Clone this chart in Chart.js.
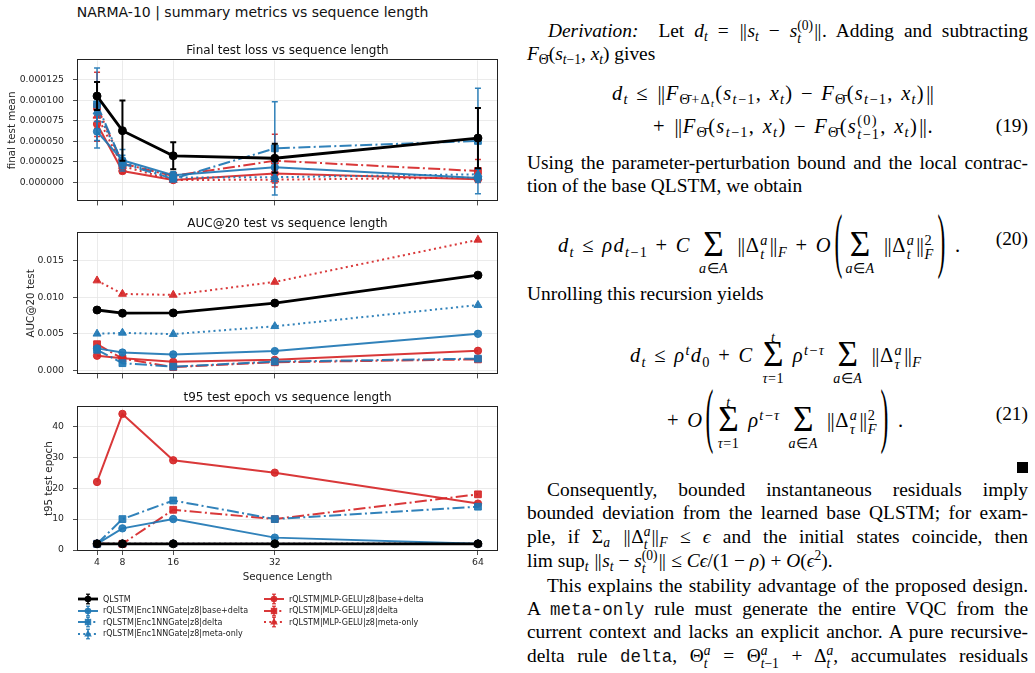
<!DOCTYPE html>
<html>
<head>
<meta charset="utf-8">
<script src="https://cdn.jsdelivr.net/npm/chart.js@4.4.1/dist/chart.umd.min.js"></script>
<style>
html,body{margin:0;padding:0;background:#fff;}
body{width:1035px;height:673px;position:relative;overflow:hidden;}
canvas.c{position:absolute;left:0;}
#sup{position:absolute;left:0;width:505px;top:4px;text-align:center;font-family:"DejaVu Sans";font-size:14px;color:#111;white-space:nowrap;}
.li{position:absolute;height:12px;white-space:nowrap;display:flex;align-items:center;font-family:"DejaVu Sans";font-size:8px;color:#222;}
.li svg{margin-right:5px;flex:none}
.tx{position:absolute;font-family:"Liberation Serif","Times New Roman",serif;font-size:19.4px;line-height:23px;color:#000;white-space:nowrap;}
.j{white-space:normal;text-align:justify;text-align-last:justify;width:501px;left:527px;}
.tx sub,.tx sup{font-size:0.7em;line-height:0;}
.tx sub{vertical-align:-0.3em}
.tx sup{vertical-align:0.5em}
.ss{display:inline-block;font-size:0.7em;line-height:0.95em;vertical-align:-0.42em;text-align:left;text-align-last:left;text-indent:0;}
.ss>span{display:block;text-indent:0;}
.nn{letter-spacing:-0.03em;margin:0 0.06em;}
.eq{font-size:20.5px;letter-spacing:1.3px;word-spacing:1px;}
.sum{display:inline-block;position:relative;font-size:1.72em;line-height:1;vertical-align:-0.1em;letter-spacing:0;text-align:center;text-indent:0;}
.sum .lo,.sum .hi{position:absolute;left:50%;transform:translateX(-50%);font-size:0.4em;line-height:1;white-space:nowrap;letter-spacing:0.5px;}
.sum .lo{top:96%;}
.sum .hi{bottom:80%;}
.bp{display:inline-block;transform:scale(1.15,3.5);transform-origin:50% 58%;margin:0 3px;letter-spacing:0;}
.mono{font-family:"Liberation Mono",monospace;font-size:0.9em;color:#111;}
</style>
</head>
<body>
<div id="sup">NARMA-10 | summary metrics vs sequence length</div>
<canvas id="c1" class="c" width="510" height="175" style="top:40px"></canvas>
<canvas id="c2" class="c" width="510" height="175" style="top:213px"></canvas>
<canvas id="c3" class="c" width="510" height="200" style="top:387px"></canvas>
<div id="legend"></div>

<!-- right-hand text column -->
<div class="tx j" style="top:19px;text-indent:21px"><i>Derivation:</i>&nbsp; Let <i>d</i><sub><i>t</i></sub> = <span class="nn">||</span><i>s</i><sub><i>t</i></sub> − <i>s</i><span class="ss"><span>(0)</span><span><i>t</i></span></span><span class="nn">||</span>. Adding and subtracting</div>
<div class="tx" style="top:42px;left:527px"><i>F</i><sub>Θ̄</sub>(<i>s</i><sub><i>t</i>−1</sub>, <i>x</i><sub><i>t</i></sub>) gives</div>
<div class="tx eq" style="top:82px;left:612px"><i>d</i><sub><i>t</i></sub> ≤ <span class="nn">||</span><i>F</i><sub>Θ̄+Δ<sub><i>t</i></sub></sub>(<i>s</i><sub><i>t</i>−1</sub>, <i>x</i><sub><i>t</i></sub>) − <i>F</i><sub>Θ̄</sub>(<i>s</i><sub><i>t</i>−1</sub>, <i>x</i><sub><i>t</i></sub>)<span class="nn">||</span></div>
<div class="tx eq" style="top:114px;left:653px">+ <span class="nn">||</span><i>F</i><sub>Θ̄</sub>(<i>s</i><sub><i>t</i>−1</sub>, <i>x</i><sub><i>t</i></sub>) − <i>F</i><sub>Θ̄</sub>(<i>s</i><span class="ss"><span>(0)</span><span><i>t</i>−1</span></span>, <i>x</i><sub><i>t</i></sub>)<span class="nn">||</span>.</div>
<div class="tx" style="top:114px;right:7px">(19)</div>
<div class="tx j" style="top:151px">Using the parameter-perturbation bound and the local contrac-</div>
<div class="tx" style="top:174px;left:527px">tion of the base QLSTM, we obtain</div>
<div class="tx eq" style="top:227px;left:558px"><i>d</i><sub><i>t</i></sub> ≤ <i>ρd</i><sub><i>t</i>−1</sub> + <i>C</i> <span class="sum" style="padding:0 5px">Σ<span class="lo"><i>a</i>∈<i>A</i></span></span> <span class="nn">||</span>Δ<span class="ss"><span><i>a</i></span><span><i>t</i></span></span><span class="nn">||</span><sub><i>F</i></sub> + <i>O</i><span class="bp">(</span><span class="sum" style="padding:0 5px">Σ<span class="lo"><i>a</i>∈<i>A</i></span></span> <span class="nn">||</span>Δ<span class="ss"><span><i>a</i></span><span><i>t</i></span></span><span class="nn">||</span><span class="ss"><span>2</span><span><i>F</i></span></span><span class="bp">)</span> .</div>
<div class="tx" style="top:227px;right:7px">(20)</div>
<div class="tx" style="top:282px;left:527px">Unrolling this recursion yields</div>
<div class="tx eq" style="top:337px;left:630px"><i>d</i><sub><i>t</i></sub> ≤ <i>ρ</i><sup><i>t</i></sup><i>d</i><sub>0</sub> + <i>C</i> <span class="sum" style="padding:0 2px">Σ<span class="hi"><i>t</i></span><span class="lo"><i>τ</i>=1</span></span> <i>ρ</i><sup><i>t</i>−<i>τ</i></sup> <span class="sum" style="padding:0 5px">Σ<span class="lo"><i>a</i>∈<i>A</i></span></span> <span class="nn">||</span>Δ<span class="ss"><span><i>a</i></span><span><i>τ</i></span></span><span class="nn">||</span><sub><i>F</i></sub></div>
<div class="tx eq" style="top:402px;left:667px">+ <i>O</i><span class="bp">(</span><span class="sum" style="padding:0 2px">Σ<span class="hi"><i>t</i></span><span class="lo"><i>τ</i>=1</span></span> <i>ρ</i><sup><i>t</i>−<i>τ</i></sup> <span class="sum" style="padding:0 5px">Σ<span class="lo"><i>a</i>∈<i>A</i></span></span> <span class="nn">||</span>Δ<span class="ss"><span><i>a</i></span><span><i>τ</i></span></span><span class="nn">||</span><span class="ss"><span>2</span><span><i>F</i></span></span><span class="bp">)</span> .</div>
<div class="tx" style="top:402px;right:7px">(21)</div>
<div style="position:absolute;left:1017px;top:462px;width:11px;height:11px;background:#000"></div>
<div class="tx j" style="top:478px;text-indent:20px">Consequently, bounded instantaneous residuals imply</div>
<div class="tx j" style="top:501px">bounded deviation from the learned base QLSTM; for exam-</div>
<div class="tx j" style="top:525px">ple, if Σ<sub><i>a</i></sub> <span class="nn">||</span>Δ<span class="ss"><span><i>a</i></span><span><i>t</i></span></span><span class="nn">||</span><sub><i>F</i></sub> ≤ <i>ϵ</i> and the initial states coincide, then</div>
<div class="tx" style="top:549px;left:527px">lim sup<sub><i>t</i></sub> <span class="nn">||</span><i>s</i><sub><i>t</i></sub> − <i>s</i><span class="ss"><span>(0)</span><span><i>t</i></span></span><span class="nn">||</span> ≤ <i>Cϵ</i>/(1 − <i>ρ</i>) + <i>O</i>(<i>ϵ</i><sup>2</sup>).</div>
<div class="tx j" style="top:574px;text-indent:20px">This explains the stability advantage of the proposed design.</div>
<div class="tx j" style="top:597px">A <span class="mono">meta-only</span> rule must generate the entire VQC from the</div>
<div class="tx j" style="top:620px">current context and lacks an explicit anchor. A pure recursive-</div>
<div class="tx j" style="top:644px">delta rule <span class="mono">delta</span>, Θ<span class="ss"><span><i>a</i></span><span><i>t</i></span></span> = Θ<span class="ss"><span><i>a</i></span><span><i>t</i>−1</span></span> + Δ<span class="ss"><span><i>a</i></span><span><i>t</i></span></span>, accumulates residuals</div>

<script>
// ---------------- data ----------------
const seqLengths = [4, 8, 16, 32, 64];
const xTickValues = [4, 8, 16, 32, 64];
const seriesLabels = [
  'QLSTM',
  'rQLSTM|Enc1NNGate|z8|base+delta',
  'rQLSTM|Enc1NNGate|z8|delta',
  'rQLSTM|Enc1NNGate|z8|meta-only',
  'rQLSTM|MLP-GELU|z8|base+delta',
  'rQLSTM|MLP-GELU|z8|delta',
  'rQLSTM|MLP-GELU|z8|meta-only'
];

// Final test loss: mean values
const lossQLSTM     = [0.000105, 0.000063, 0.0000325, 0.0000295, 0.000054];
const lossEncBase   = [0.000062, 0.000027, 0.000009, 0.0000185, 0.0000055];
const lossEncDelta  = [0.000095, 0.000023, 0.0000045, 0.0000415, 0.0000505];
const lossEncMeta   = [0.000086, 0.000025, 0.000006, 0.0000065, 0.00001];
const lossMlpBase   = [0.000071, 0.000014, 0.000003, 0.000011, 0.000004];
const lossMlpDelta  = [0.000092, 0.000023, 0.000008, 0.0000265, 0.000014];
const lossMlpMeta   = [0.000081, 0.00002, 0.000003, 0.0000035, 0.000006];
// Final test loss: error bar half-widths
const lossErrQLSTM    = [0.000017, 0.0000365, 0.0000165, 0.0000175, 0.0000365];
const lossErrEncBase  = [0.00002, 0.000013, 0.000004, 0.000006, 0.000005];
const lossErrEncDelta = [0.000044, 0.000006, 0.000003, 0.0000565, 0.000064];
const lossErrEncMeta  = [0.000012, 0.000008, 0.000003, 0.000005, 0.000006];
const lossErrMlpBase  = [0.000015, 0.000003, 0.000002, 0.000005, 0.000003];
const lossErrMlpDelta = [0.000042, 0.000005, 0.000003, 0.000032, 0.000014];
const lossErrMlpMeta  = [0.000015, 0.000005, 0.000002, 0.000004, 0.000004];

// AUC@20 test
const aucQLSTM    = [0.00824, 0.0078, 0.00784, 0.00918, 0.0130];
const aucEncBase  = [0.0030, 0.00243, 0.00218, 0.00263, 0.00499];
const aucEncDelta = [0.0028, 0.00098, 0.0005, 0.0012, 0.0016];
const aucEncMeta  = [0.00499, 0.00512, 0.00495, 0.00602, 0.00891];
const aucMlpBase  = [0.0020, 0.00165, 0.00116, 0.00143, 0.00267];
const aucMlpDelta = [0.00357, 0.0016, 0.00045, 0.0011, 0.0015];
const aucMlpMeta  = [0.01226, 0.01043, 0.0103, 0.01207, 0.01782];

// t95 test epoch
const t95QLSTM    = [2, 2, 2, 2, 2];
const t95EncBase  = [2, 7, 10, 4, 2];
const t95EncDelta = [2, 10, 16, 10, 14];
const t95EncMeta  = [2, 2, 2, 2, 2];
const t95MlpBase  = [22, 44, 29, 25, 15];
const t95MlpDelta = [2, 2, 13, 10, 18];
const t95MlpMeta  = [2, 2, 2, 2, 2];

// tick labels
const yTicksLoss = [0, 0.000025, 0.00005, 0.000075, 0.0001, 0.000125];
const yTicksAuc  = [0, 0.005, 0.01, 0.015];
const yTicksT95  = [0, 10, 20, 30, 40];

// ---------------- styling ----------------
const BLUE = 'rgba(31,119,180,0.92)', RED = 'rgba(214,39,40,0.92)', BLACK = '#000000';
const DASHDOT = [12, 3.3, 2, 3.3], DOT = [2, 3.3];
const styles = [
  {color: BLACK, dash: [], point: 'circle', r: 4, w: 2.8, ew: 2},
  {color: BLUE, dash: [], point: 'circle', r: 3.7, w: 2, ew: 1.5},
  {color: BLUE, dash: DASHDOT, point: 'rect', r: 4.8, w: 2, ew: 1.5},
  {color: BLUE, dash: DOT, point: 'triangle', r: 4.6, w: 2, ew: 1.5},
  {color: RED, dash: [], point: 'circle', r: 3.7, w: 2, ew: 1.5},
  {color: RED, dash: DASHDOT, point: 'rect', r: 4.8, w: 2, ew: 1.5},
  {color: RED, dash: DOT, point: 'triangle', r: 4.6, w: 2, ew: 1.5}
];
const GRID = '#e6e6e6', AXIS = '#222222', TXT = '#262626';
const FONT = 'DejaVu Sans';

const errorBarPlugin = {
  id: 'errbars',
  beforeDatasetDraw(chart, args) {
    const ds = chart.data.datasets[args.index];
    if (!ds.errors) return;
    const xs = chart.scales.x, ys = chart.scales.y, ctx = chart.ctx;
    ctx.save();
    ctx.strokeStyle = ds.borderColor;
    ctx.lineWidth = ds.errWidth;
    ctx.setLineDash([]);
    const cap = 3;
    ds.data.forEach((p, k) => {
      const e = ds.errors[k];
      const px = xs.getPixelForValue(p.x);
      const y1 = ys.getPixelForValue(p.y - e), y2 = ys.getPixelForValue(p.y + e);
      ctx.beginPath();
      ctx.moveTo(px, y1); ctx.lineTo(px, y2);
      ctx.moveTo(px - cap, y1); ctx.lineTo(px + cap, y1);
      ctx.moveTo(px - cap, y2); ctx.lineTo(px + cap, y2);
      ctx.stroke();
    });
    ctx.restore();
  }
};
const framePlugin = {
  id: 'frame',
  afterDatasetsDraw(chart) {
    const a = chart.chartArea, ctx = chart.ctx;
    ctx.save();
    ctx.strokeStyle = AXIS; ctx.lineWidth = 1;
    ctx.strokeRect(Math.round(a.left) - 0.5, Math.round(a.top) - 0.5, Math.round(a.right - a.left) + 1, Math.round(a.bottom - a.top) + 1);
    ctx.restore();
  }
};

function makeChart(id, cfg) {
  const datasets = seriesLabels.map((lab, i) => ({
    label: lab,
    data: seqLengths.map((x, k) => ({x: x, y: cfg.values[i][k]})),
    borderColor: styles[i].color,
    backgroundColor: styles[i].color,
    pointBackgroundColor: styles[i].color,
    pointBorderColor: styles[i].color,
    borderWidth: styles[i].w,
    borderDash: styles[i].dash,
    pointStyle: styles[i].point,
    pointRadius: styles[i].r,
    pointBorderWidth: 1,
    tension: 0,
    errors: cfg.errors ? cfg.errors[i] : null,
    errWidth: styles[i].ew
  }));
  return new Chart(document.getElementById(id), {
    type: 'line',
    data: {datasets},
    plugins: [errorBarPlugin, framePlugin],
    options: {
      responsive: false, animation: false, devicePixelRatio: 1,
      layout: {padding: {left: 0, right: 13, top: 0, bottom: 0}},
      plugins: {
        legend: {display: false}, tooltip: {enabled: false},
        title: {display: true, text: cfg.title, fullSize: false, color: '#111',
          font: {family: FONT, size: 12, weight: 'normal'}, padding: {top: 4, bottom: 2}}
      },
      scales: {
        x: {
          type: 'linear', min: 1, max: 67,
          afterBuildTicks: a => { a.ticks = xTickValues.map(v => ({value: v})); },
          afterFit: s => { s.height = cfg.xh; },
          grid: {color: GRID, lineWidth: 0.8, tickLength: 5, tickColor: AXIS, tickWidth: 0.8},
          border: {display: false},
          ticks: {callback: cfg.showX ? (v => String(v)) : (() => ''), autoSkip: false, maxRotation: 0,
            font: {family: FONT, size: 9.3}, color: TXT, padding: 2},
          title: {display: !!cfg.showX, text: 'Sequence Length', color: TXT,
            font: {family: FONT, size: 10.3}, padding: {top: 0, bottom: 3}}
        },
        y: {
          min: cfg.ymin, max: cfg.ymax,
          afterBuildTicks: a => { a.ticks = cfg.yticks.map(v => ({value: v})); },
          afterFit: s => { s.width = 78; },
          grid: {color: GRID, lineWidth: 0.8, tickLength: 5, tickColor: AXIS, tickWidth: 0.8},
          border: {display: false},
          ticks: {callback: v => v.toFixed(cfg.dec), font: {family: FONT, size: 9.3}, color: TXT, padding: 9},
          title: {display: true, text: cfg.ylabel, color: TXT, font: {family: FONT, size: 10.3},
            padding: {top: cfg.ylabPad, bottom: 0}}
        }
      }
    }
  });
}

makeChart('c1', {
  title: 'Final test loss vs sequence length', ylabel: 'final test mean', ylabPad: 5.8,
  values: [lossQLSTM, lossEncBase, lossEncDelta, lossEncMeta, lossMlpBase, lossMlpDelta, lossMlpMeta],
  errors: [lossErrQLSTM, lossErrEncBase, lossErrEncDelta, lossErrEncMeta, lossErrMlpBase, lossErrMlpDelta, lossErrMlpMeta],
  ymin: -0.0000217, ymax: 0.0001483, yticks: yTicksLoss, dec: 6, xh: 12, showX: false
});
makeChart('c2', {
  title: 'AUC@20 test vs sequence length', ylabel: 'AUC@20 test', ylabPad: 24.8,
  values: [aucQLSTM, aucEncBase, aucEncDelta, aucEncMeta, aucMlpBase, aucMlpDelta, aucMlpMeta],
  ymin: -0.00042, ymax: 0.0187, yticks: yTicksAuc, dec: 3, xh: 11, showX: false
});
makeChart('c3', {
  title: 't95 test epoch vs sequence length', ylabel: 't95 test epoch', ylabPad: 42.8,
  values: [t95QLSTM, t95EncBase, t95EncDelta, t95EncMeta, t95MlpBase, t95MlpDelta, t95MlpMeta],
  ymin: 0, ymax: 46.1, yticks: yTicksT95, dec: 0, xh: 37, showX: true
});

// ---------------- legend (HTML) ----------------
function icon(s) {
  const c = s.color;
  const dash = s.dash.length ? ` stroke-dasharray="${s.dash.join(' ')}"` : '';
  let m;
  if (s.point === 'circle') m = `<circle cx="10" cy="6" r="3.3" fill="${c}"/>`;
  else if (s.point === 'rect') m = `<rect x="6.8" y="2.8" width="6.4" height="6.4" fill="${c}"/>`;
  else m = `<polygon points="10,2 13.8,8.6 6.2,8.6" fill="${c}"/>`;
  return `<svg width="20" height="12" viewBox="0 0 20 12">` +
    `<line x1="0" y1="6" x2="20" y2="6" stroke="${c}" stroke-width="${s.w}"${dash}/>` +
    `<line x1="10" y1="1" x2="10" y2="11" stroke="${c}" stroke-width="1.5"/>` +
    `<line x1="8" y1="1.2" x2="12" y2="1.2" stroke="${c}" stroke-width="1.2"/>` +
    `<line x1="8" y1="10.8" x2="12" y2="10.8" stroke="${c}" stroke-width="1.2"/>` + m + `</svg>`;
}
const legendCols = [[0, 1, 2, 3], [4, 5, 6]];
const legendX = [78, 264], legendY0 = 593, legendDy = 11.6;
const lg = document.getElementById('legend');
legendCols.forEach((col, ci) => col.forEach((idx, ri) => {
  const d = document.createElement('div');
  d.className = 'li';
  d.style.left = legendX[ci] + 'px';
  d.style.top = (legendY0 + ri * legendDy) + 'px';
  d.innerHTML = icon(styles[idx]) + '<span></span>';
  d.lastChild.textContent = seriesLabels[idx];
  lg.appendChild(d);
}));
</script>
</body>
</html>
